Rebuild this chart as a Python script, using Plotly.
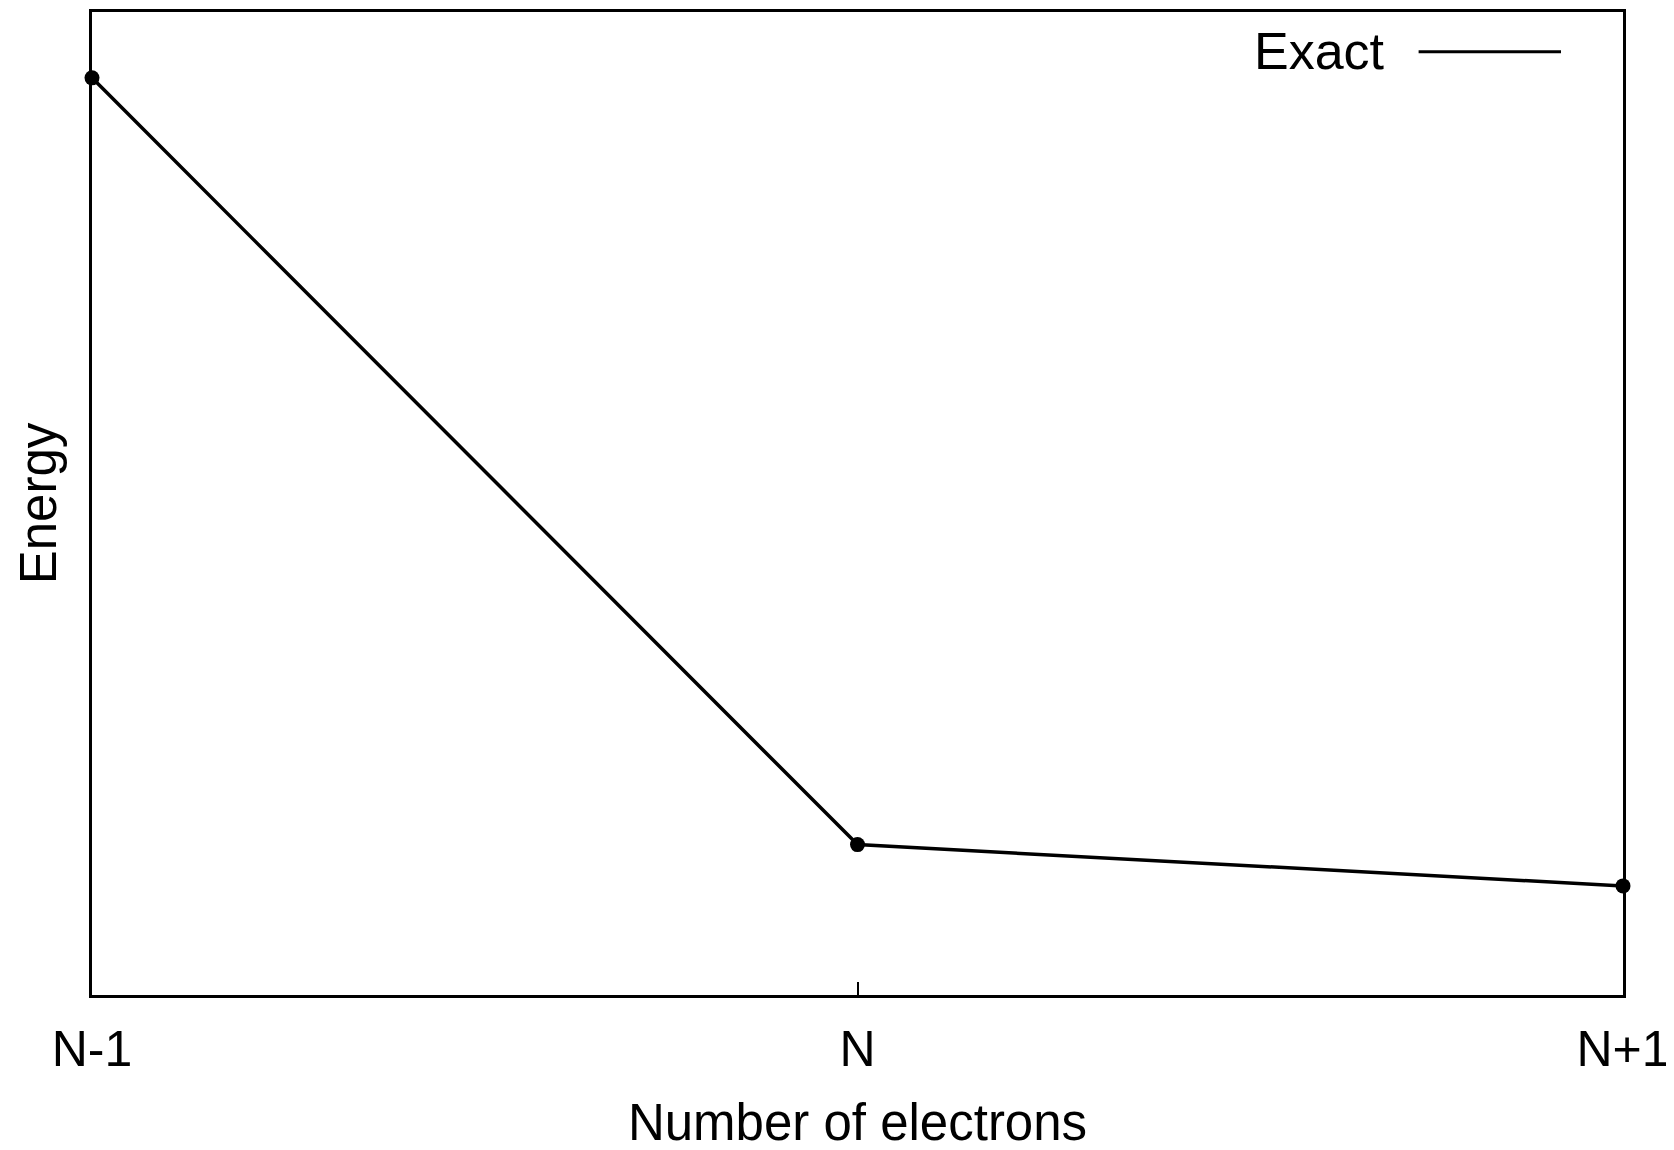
import plotly.graph_objects as go

# Data
electron_labels = ["N-1", "N", "N+1"]
electron_pos = [0, 1, 2]
energy_exact = [9.33, 1.53, 1.11]
series_name = "Exact"

FONT = "Liberation Sans, Arial, Helvetica, sans-serif"

fig = go.Figure()
fig.add_trace(go.Scatter(
    x=electron_pos, y=energy_exact, mode="lines+markers",
    name=series_name, showlegend=False,
    line=dict(color="black", width=3.5),
    marker=dict(color="black", size=15),
    cliponaxis=False,
))

# legend imitation: text then line segment
fig.add_annotation(
    x=0.846, y=0.96, xref="paper", yref="paper", xanchor="right", yanchor="middle",
    text=series_name, showarrow=False,
    font=dict(family=FONT, size=52, color="black"),
)
fig.add_shape(type="line", xref="paper", yref="paper",
              x0=0.8665, x1=0.9595, y0=0.9595, y1=0.9595,
              line=dict(color="black", width=3))

fig.update_layout(
    width=1674, height=1150,
    margin=dict(l=84, r=59, t=1, b=163),
    plot_bgcolor="white", paper_bgcolor="white",
    font=dict(family=FONT, size=50, color="black"),
    showlegend=False,
)
fig.update_xaxes(
    range=[0, 2], tickvals=electron_pos, ticktext=electron_labels,
    ticks="inside", ticklen=13, tickwidth=2, tickcolor="black",
    showline=True, linecolor="black", linewidth=2.5, mirror=True,
    showgrid=False, zeroline=False,
    ticklabelstandoff=8,
    tickfont=dict(family=FONT, size=50),
    title=dict(text="Number of electrons", font=dict(family=FONT, size=51), standoff=29),
)
fig.update_yaxes(
    range=[0, 10], showticklabels=False, ticks="",
    showline=True, linecolor="black", linewidth=2.5, mirror=True,
    showgrid=False, zeroline=False,
    title=dict(text="Energy", font=dict(family=FONT, size=51), standoff=17),
)

fig.write_html("out.html")
